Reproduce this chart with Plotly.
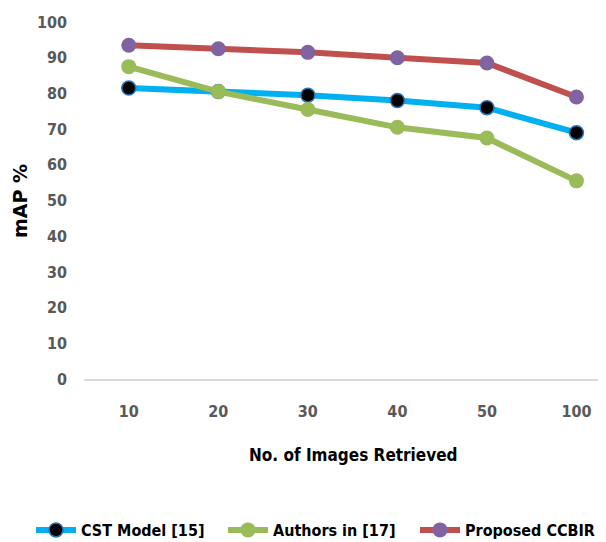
import plotly.graph_objects as go

categories = ["10", "20", "30", "40", "50", "100"]
cst_model = [81.5, 80.5, 79.5, 78, 76, 69]
authors17 = [87.5, 80.5, 75.5, 70.5, 67.5, 55.5]
proposed = [93.5, 92.5, 91.5, 90, 88.5, 79]
y_ticks = [0, 10, 20, 30, 40, 50, 60, 70, 80, 90, 100]

FONT = "DejaVu Sans Condensed, Liberation Sans Narrow, Roboto, sans-serif"
WIDE = "DejaVu Sans, sans-serif"

# page body has an 8px margin, so layout positions are offset by 8px
OFF = 8
PL, PT, PR, PB = 84 - OFF, 22 - OFF, 606 - OFF, 379 - OFF
PW, PH = PR - PL, PB - PT

def px(xs):
    return (xs - 84) / PW

def py(ys):
    return (379 - ys) / PH

fig = go.Figure()
fig.add_trace(go.Scatter(
    x=categories, y=cst_model, name="CST Model [15]", mode="lines+markers",
    line=dict(color="#00B0F0", width=6),
    marker=dict(color="black", size=14, line=dict(color="#2E75B6", width=1.5)),
    cliponaxis=False))
fig.add_trace(go.Scatter(
    x=categories, y=authors17, name="Authors in [17]", mode="lines+markers",
    line=dict(color="#9BBB59", width=6),
    marker=dict(color="#9BBB59", size=15),
    cliponaxis=False))
fig.add_trace(go.Scatter(
    x=categories, y=proposed, name="Proposed CCBIR", mode="lines+markers",
    line=dict(color="#C0504D", width=6),
    marker=dict(color="#8064A2", size=15),
    cliponaxis=False))

fig.update_layout(
    width=606, height=542,
    margin=dict(l=PL, r=606 - PR, t=PT, b=542 - PB, autoexpand=False),
    plot_bgcolor="white", paper_bgcolor="white",
    font=dict(family=FONT, size=16, color="#595959"),
    showlegend=True,
    legend=dict(orientation="h", x=px(31), xanchor="left",
                y=py(530), yanchor="middle",
                font=dict(family=FONT, size=16, color="black", weight="bold"),
                entrywidth=137, entrywidthmode="pixels", itemwidth=40, tracegroupgap=0),
    xaxis=dict(type="category", range=[-0.5, 5.33], showgrid=False,
               showline=True, linecolor="#D9D9D9", linewidth=2,
               ticks="", ticklabelstandoff=17,
               tickfont=dict(family=FONT, size=16, color="#595959", weight="bold")),
    yaxis=dict(range=[0, 100], tickvals=y_ticks, showgrid=False, zeroline=False,
               showline=False, ticks="", ticklabelstandoff=16,
               tickfont=dict(family=FONT, size=16, color="#595959", weight="bold")),
    annotations=[
        dict(text="No. of Images Retrieved", xref="paper", yref="paper",
             x=px(353), y=py(455), xanchor="center",
             yanchor="middle", showarrow=False,
             font=dict(family=FONT, size=17, color="black", weight="bold")),
        dict(text="mAP %", xref="paper", yref="paper", x=px(20), y=py(201),
             xanchor="center", yanchor="middle", textangle=-90, showarrow=False,
             font=dict(family=WIDE, size=19, color="black", weight="bold")),
    ],
)

fig.write_html("out.html")
